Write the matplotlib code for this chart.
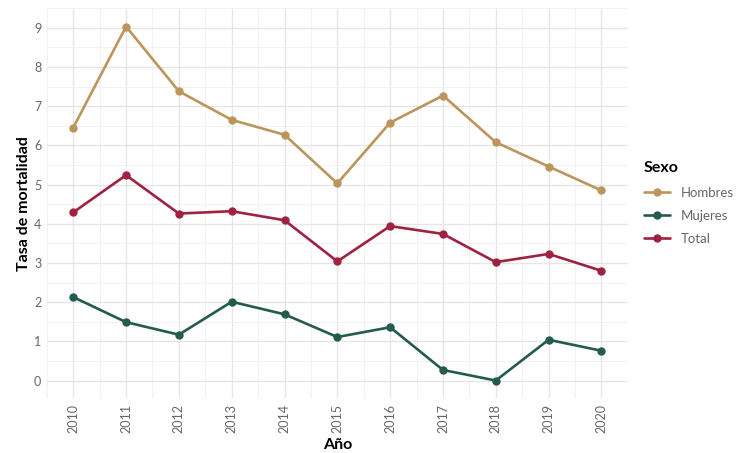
import matplotlib
matplotlib.use("Agg")
import matplotlib.pyplot as plt
from matplotlib.ticker import MultipleLocator

years = [2010, 2011, 2012, 2013, 2014, 2015, 2016, 2017, 2018, 2019, 2020]
hombres = [6.45, 9.03, 7.38, 6.65, 6.27, 5.03, 6.58, 7.27, 6.08, 5.46, 4.85]
mujeres = [2.13, 1.49, 1.17, 2.01, 1.69, 1.11, 1.36, 0.27, 0.00, 1.04, 0.76]
total = [4.29, 5.24, 4.26, 4.32, 4.09, 3.04, 3.94, 3.74, 3.02, 3.23, 2.80]
series_names = ["Hombres", "Mujeres", "Total"]
colors = ["#BC955C", "#235B4E", "#9F2241"]

plt.rcParams['font.family'] = ['Lato', 'DejaVu Sans']

fig = plt.figure(figsize=(7.43, 4.53), dpi=100)
ax = fig.add_axes([0.063, 0.121, 0.782, 0.861])

for name, vals, c in zip(series_names, [hombres, mujeres, total], colors):
    ax.plot(years, vals, color=c, lw=1.9, marker='o', ms=5, label=name,
            solid_capstyle='round', zorder=3)

ax.set_xlim(2009.5, 2020.5)
ax.set_ylim(-0.45, 9.5)
ax.set_xticks(years)
ax.set_xticklabels([str(y) for y in years], rotation=90)
ax.xaxis.set_minor_locator(MultipleLocator(0.5))
ax.yaxis.set_major_locator(MultipleLocator(1))
ax.yaxis.set_minor_locator(MultipleLocator(0.5))
ax.grid(which='major', color='#e6e6e6', lw=1.0, zorder=0)
ax.grid(which='minor', color='#f0f0f0', lw=0.6, zorder=0)
ax.set_axisbelow(True)
for s in ax.spines.values():
    s.set_visible(False)
ax.tick_params(which='both', length=0)
ax.tick_params(axis='both', labelsize=9, labelcolor='#666666', pad=4)

ax.set_xlabel("Año", fontsize=11.5, fontweight='bold', labelpad=4)
ax.set_ylabel("Tasa de mortalidad", fontsize=11.5, fontweight='bold', labelpad=2)

leg = ax.legend(title="Sexo", loc='center left', bbox_to_anchor=(1.0, 0.50),
                frameon=False, fontsize=9.5, title_fontsize=11.5,
                handlelength=2.0, labelspacing=0.85, borderaxespad=0.8)
leg.get_title().set_fontweight('bold')
leg._legend_box.align = 'left'
for t in leg.get_texts():
    t.set_color('#666666')

fig.savefig("out.png", dpi=100, facecolor='white')
